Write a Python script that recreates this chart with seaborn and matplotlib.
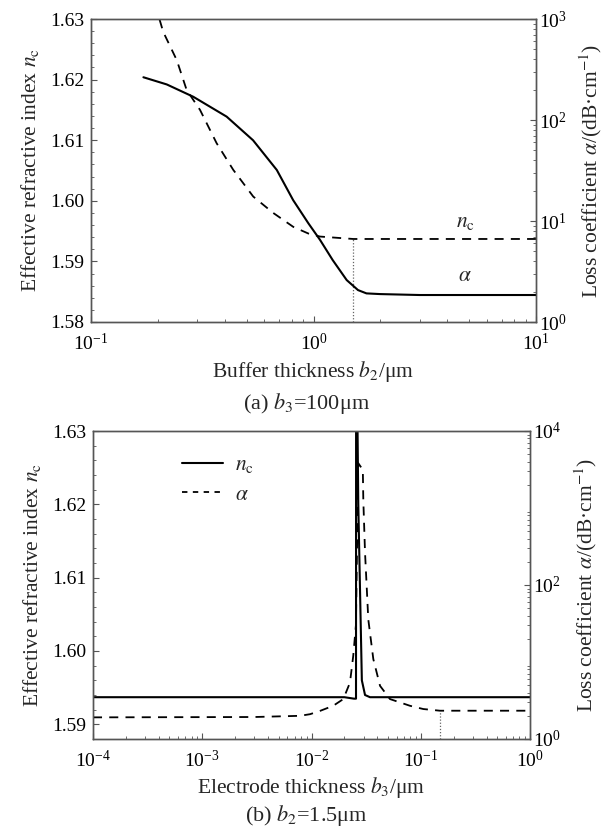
import numpy as np
import pandas as pd
import matplotlib
matplotlib.use("Agg")
import matplotlib.pyplot as plt
from matplotlib.lines import Line2D
from matplotlib.ticker import LogLocator, MultipleLocator, NullFormatter
import seaborn as sns

# ---------------- data: panel (a) ----------------
a_nc_x = [0.195, 0.203, 0.211, 0.243, 0.269, 0.309, 0.367, 0.436, 0.536, 0.659, 0.811, 0.948, 1.07, 1.51, 3.0, 10.0]
a_nc_y = [1.6325, 1.630, 1.6279, 1.6232, 1.6183, 1.615, 1.6095, 1.6051, 1.6007, 1.598, 1.5957, 1.5946, 1.5941, 1.5937, 1.5937, 1.5937]
a_alpha_x = [0.172, 0.219, 0.288, 0.407, 0.535, 0.684, 0.81, 0.948, 1.07, 1.22, 1.41, 1.585, 1.73, 1.99, 3.0, 10.0]
a_alpha_y = [265, 225, 170, 108, 63, 32, 16.1, 9.5, 6.5, 4.1, 2.6, 2.07, 1.92, 1.89, 1.85, 1.85]
a_mark_x = 1.5
a_mark_top = 1.5937

# ---------------- data: panel (b) ----------------
b_nc_x = [1e-4, 0.02, 0.0245, 0.02555, 0.0256, 0.0262, 0.0268, 0.0289, 0.0309, 0.0343, 0.1, 1.0]
b_nc_y = [1.5937, 1.5937, 1.5935, 1.5935, 1.635, 1.635, 1.6201, 1.596, 1.594, 1.5937, 1.5937, 1.5937]
b_alpha_x = [1e-4, 0.003, 0.00785, 0.0097, 0.012, 0.0158, 0.01955, 0.0225, 0.0241, 0.0255, 0.0268, 0.0295, 0.0298,
             0.0309, 0.0331, 0.0368, 0.0424, 0.0523, 0.0797, 0.1055, 0.15, 1.0]
b_alpha_y = [1.91, 1.93, 2.0, 2.1, 2.32, 2.7, 3.3, 5.4, 12, 30, 3820, 3130, 1280,
             264, 35.7, 10.9, 4.9, 3.3, 2.7, 2.45, 2.33, 2.33]
b_mark_x = 0.15
b_mark_top = 2.33

sns.set_style("ticks")
plt.rcParams["font.family"] = ["Liberation Serif", "DejaVu Serif"]
plt.rcParams["mathtext.fontset"] = "stix"
plt.rcParams["axes.edgecolor"] = "#555555"
plt.rcParams["xtick.direction"] = "in"
plt.rcParams["ytick.direction"] = "in"

FS_TICK = 14
FS_LAB = 15.5
FS_CAP = 16
W, H = 613, 831
fig = plt.figure(figsize=(W / 100, H / 100), dpi=100)

def style_axes(ax, ax2):
    for a in (ax, ax2):
        a.tick_params(which="major", length=4, width=0.8, labelsize=FS_TICK, colors="#555555", labelcolor="black")
        a.tick_params(which="minor", length=2, width=0.6, colors="#555555")
        for s in a.spines.values():
            s.set_linewidth(1.0)
            s.set_color("#555555")
    ax.tick_params(axis="x", which="major", pad=8)
    ax.tick_params(axis="y", which="major", pad=5)
    ax2.tick_params(axis="y", which="major", pad=2)
    ax2.yaxis.set_minor_locator(LogLocator(base=10, subs=np.arange(2, 10)))
    ax2.yaxis.set_minor_formatter(NullFormatter())
    ax.xaxis.set_minor_locator(LogLocator(base=10, subs=np.arange(2, 10)))
    ax.xaxis.set_minor_formatter(NullFormatter())
    ax.yaxis.set_minor_locator(MultipleLocator(0.002))

# ---------------- panel (a) ----------------
a_l, a_r, a_t, a_b = 91, 536, 19, 322
ax = fig.add_axes([a_l / W, 1 - a_b / H, (a_r - a_l) / W, (a_b - a_t) / H])
ax2 = ax.twinx()
df_a1 = pd.DataFrame({"x": a_nc_x, "y": a_nc_y})
df_a2 = pd.DataFrame({"x": a_alpha_x, "y": a_alpha_y})
sns.lineplot(data=df_a1, x="x", y="y", ax=ax, color="black", linestyle=(0, (5, 4)), lw=1.3, estimator=None, sort=False)
sns.lineplot(data=df_a2, x="x", y="y", ax=ax2, color="black", lw=1.5, estimator=None, sort=False)
ax.set_xscale("log")
ax.set_xlim(0.1, 10)
ax.set_ylim(1.58, 1.63)
ax.set_yticks([1.58, 1.59, 1.60, 1.61, 1.62, 1.63])
ax.set_yticklabels(["1.58", "1.59", "1.60", "1.61", "1.62", "1.63"])
ax2.set_yscale("log")
ax2.set_ylim(1, 1000)
ax.vlines(a_mark_x, 1.58, a_mark_top, colors="#666666", linestyles=(0, (1, 1.5)), lw=0.9)
ax.set_xlabel(r"Buffer thickness $b_2$/μm", fontsize=FS_LAB, va="center")
ax.xaxis.set_label_coords(0.5, (a_b - 371) / (a_b - a_t))
ax.set_ylabel(r"Effective refractive index $n_{\rm c}$", fontsize=FS_LAB, labelpad=6)
ax2.set_ylabel(r"Loss coefficient $\alpha$/(dB·cm$^{-1}$)", fontsize=FS_LAB, labelpad=8)
ax.text(4.8, 1.5965, r"$n_{\rm c}$", fontsize=FS_LAB, ha="center", va="center")
ax2.text(4.8, 2.79, r"$\alpha$", fontsize=FS_LAB, ha="center", va="center")
style_axes(ax, ax2)
fig.text(0.5, 1 - 403 / H, r"(a) $b_3$=100μm", ha="center", va="center", fontsize=FS_CAP)

# ---------------- panel (b) ----------------
b_l, b_r, b_t, b_b = 93, 530, 431, 739
bx = fig.add_axes([b_l / W, 1 - b_b / H, (b_r - b_l) / W, (b_b - b_t) / H])
bx2 = bx.twinx()
df_b1 = pd.DataFrame({"x": b_nc_x, "y": b_nc_y})
df_b2 = pd.DataFrame({"x": b_alpha_x, "y": b_alpha_y})
sns.lineplot(data=df_b1, x="x", y="y", ax=bx, color="black", lw=1.5, estimator=None, sort=False)
sns.lineplot(data=df_b2, x="x", y="y", ax=bx2, color="black", linestyle=(0, (5, 4)), lw=1.3, estimator=None, sort=False)
bx.set_xscale("log")
bx.set_xlim(1e-4, 1)
bx.set_ylim(1.588, 1.63)
bx.set_yticks([1.59, 1.60, 1.61, 1.62, 1.63])
bx.set_yticklabels(["1.59", "1.60", "1.61", "1.62", "1.63"])
bx2.set_yscale("log")
bx2.set_ylim(1, 1e4)
bx2.set_yticks([1, 100, 10000])
bx2.vlines(b_mark_x, 1, b_mark_top, colors="#666666", linestyles=(0, (1, 1.5)), lw=0.9)
bx.set_xlabel(r"Electrode thickness $b_3$/μm", fontsize=FS_LAB, va="center")
bx.xaxis.set_label_coords(0.5, (b_b - 787) / (b_b - b_t))
bx.set_ylabel(r"Effective refractive index $n_{\rm c}$", fontsize=FS_LAB, labelpad=6)
bx2.set_ylabel(r"Loss coefficient $\alpha$/(dB·cm$^{-1}$)", fontsize=FS_LAB, labelpad=8)
style_axes(bx, bx2)
handles = [Line2D([], [], color="black", lw=1.5),
           Line2D([], [], color="black", lw=1.3, linestyle=(0, (3, 3)))]
bx.legend(handles, [r"$n_{\rm c}$", r"$\alpha$"], loc="upper left", bbox_to_anchor=(0.16, 0.985),
          frameon=False, fontsize=FS_LAB, handlelength=1.9, handletextpad=0.55, labelspacing=0.45)
fig.text(0.5, 1 - 815 / H, r"(b) $b_2$=1.5μm", ha="center", va="center", fontsize=FS_CAP)

fig.savefig("out.png", dpi=100)
